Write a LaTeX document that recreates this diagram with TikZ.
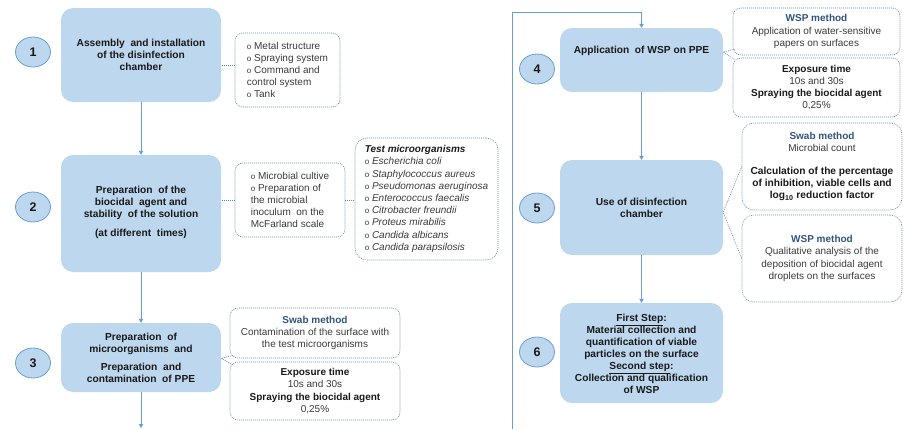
\documentclass[tikz,border=0pt]{standalone}
\usepackage{fontspec}
\setmainfont{Liberation Sans}
\usetikzlibrary{arrows.meta,shapes.geometric,calc}
\definecolor{boxblue}{HTML}{BDD7EE}
\definecolor{lineblue}{HTML}{6A9FD6}
\definecolor{dashc}{HTML}{6A84A8}
\definecolor{methc}{HTML}{2F5380}
\definecolor{txtc}{HTML}{1A1A1A}
\definecolor{sidetxt}{HTML}{3A3A3A}
\newcommand{\bul}{{\fontsize{8}{6}\selectfont o}\ }
\newcommand{\meth}[1]{{\color{methc}\bfseries #1}}
\newcommand{\bfblack}[1]{{\bfseries\color{txtc}#1}}
\tikzset{
 mainbox/.style={fill=boxblue, draw=none, rounded corners=12pt, minimum width=160pt, inner sep=0pt},
 maintext/.style={align=center, font=\bfseries\fontsize{10.2}{12}\selectfont, text=txtc, inner sep=0pt},
 numc/.style={ellipse, draw=lineblue, line width=0.8pt, fill=boxblue, minimum width=35pt, minimum height=30pt, inner sep=0pt, font=\bfseries\fontsize{12.5}{12}\selectfont, text=txtc},
 sidebox/.style={draw=dashc, dash pattern=on 1pt off 1pt, line width=0.6pt, rounded corners=8pt, inner sep=2pt, font=\fontsize{10}{12.2}\selectfont, text=sidetxt},
 flow/.style={draw=lineblue, line width=0.8pt, -{Triangle[length=4pt,width=4.5pt]}},
 dconn/.style={draw=dashc, dash pattern=on 1pt off 1pt, line width=0.6pt},
}
\begin{document}
\begin{tikzpicture}[x=1pt,y=-1pt]
\useasboundingbox (0,0) rectangle (903,429);
% ---------- left column ----------
\node[mainbox, minimum height=94pt] (b1) at (141,55) {};
\node[maintext] (b1t) at (141,55) {Assembly\ \ and installation\\of the disinfection\\chamber};
\node[numc] (c1) at (33,52) {1};

\node[mainbox, minimum height=117pt] (b2) at (141,213.5) {};
\node[maintext] (b2t) at (141,212) {Preparation\ \ of the\\biocidal\ \ agent and\\stability\ \ of the solution\\[7pt](at different\ \ times)};
\node[numc] (c2) at (33,207) {2};

\node[mainbox, minimum height=69pt] (b3) at (141,357.5) {};
\node[maintext] (b3t) at (141,358) {Preparation\ \ of\\microorganisms\ \ and\\[6pt]Preparation\ \ and\\contamination\ \ of PPE};
\node[numc] (c3) at (33,363) {3};

\node[sidebox, minimum width=105pt, minimum height=74pt, align=left] (s1) at (287.5,70)
 {\bul Metal structure\\\bul Spraying system\\\bul Command and\\control system\\\bul Tank};
\node[sidebox, minimum width=110pt, minimum height=74pt, align=left] (s2a) at (290,200)
 {\bul Microbial cultive\\\bul Preparation of\\the microbial\\inoculum\ \ on the\\McFarland scale};
\node[sidebox, minimum width=143pt, minimum height=122pt, align=left, rounded corners=12pt] (tst) at (426.5,199)
 {\hfil{\bfseries\itshape\color{txtc}Test microorganisms}\hfil\\\bul\textit{Escherichia coli}\\\bul\textit{Staphylococcus aureus}\\\bul\textit{Pseudomonas aeruginosa}\\\bul\textit{Enterococcus faecalis}\\\bul\textit{Citrobacter freundii}\\\bul\textit{Proteus mirabilis}\\\bul\textit{Candida albicans}\\\bul\textit{Candida parapsilosis}};
\node[sidebox, minimum width=170pt, minimum height=50pt, align=center] (s3a) at (315,333)
 {\meth{Swab method}\\Contamination of the surface with\\the test microorganisms};
\node[sidebox, minimum width=170pt, minimum height=58pt, align=center] (s3b) at (315,391)
 {\bfblack{Exposure time}\\10s and 30s\\\bfblack{Spraying the biocidal agent}\\0,25\%};

% ---------- right column ----------
\node[mainbox, minimum width=163pt, minimum height=64pt] (b4) at (641.5,60) {};
\node[maintext] (b4t) at (641.5,51) {Application\ \ of WSP on PPE};
\node[numc] (c4) at (537,69) {4};

\node[mainbox, minimum width=163pt, minimum height=95pt] (b5) at (641.5,207.5) {};
\node[maintext] (b5t) at (641.5,208) {Use of disinfection\\chamber};
\node[numc] (c5) at (537,208) {5};

\node[mainbox, minimum width=163pt, minimum height=100pt] (b6) at (641.5,353) {};
\node[maintext] (b6t) at (641.5,354) {\underline{First Step}:\\Material collection and\\quantification of viable\\particles on the surface\\\underline{Second step}:\\Collection and qualification\\of WSP};
\node[numc] (c6) at (537,352) {6};

\node[sidebox, minimum width=167pt, minimum height=47pt, align=center] (s4a) at (816.5,31.5)
 {\meth{WSP method}\\Application of water-sensitive\\papers on surfaces};
\node[sidebox, minimum width=167pt, minimum height=59pt, align=center] (s4b) at (816.5,87.5)
 {\bfblack{Exposure time}\\10s and 30s\\\bfblack{Spraying the biocidal agent}\\0,25\%};
\node[sidebox, minimum width=160pt, minimum height=87pt, align=center, rounded corners=12pt] (s5a) at (822,166.5)
 {\meth{Swab method}\\Microbial count\\[11pt]{\bfseries\color{txtc}\fontsize{10.2}{12}\selectfont Calculation of the percentage}\\{\bfseries\color{txtc}\fontsize{10.2}{12}\selectfont of inhibition, viable cells and}\\{\bfseries\color{txtc}\fontsize{10.2}{12}\selectfont log\textsubscript{10} reduction factor}};
\node[sidebox, minimum width=160pt, minimum height=87pt, align=center, rounded corners=12pt] (s5b) at (822,258.5)
 {\meth{WSP method}\\Qualitative analysis of the\\deposition of biocidal agent\\droplets on the surfaces};

% ---------- flow connectors ----------
\coordinate (lend) at (141,428);
\coordinate (rstart) at (512,429);
\coordinate (rtop) at (512,12);
\draw[flow] (b1.south) -- (b2.north);
\draw[flow] (b2.south) -- (b3.north);
\draw[flow] (b3.south) -- (lend);
\draw[flow] (rstart) -- (rtop) -| (b4.north);
\draw[flow] (b4.south) -- (b5.north);
\draw[flow] (b5.south) -- (b6.north);

% ---------- dotted side connectors ----------
\draw[dconn] ([yshift=5pt]s1.west) -- ([yshift=5pt]s1.west -| b1.east);
\draw[dconn] (s2a.west) -- (s2a.west -| b2.east);
\draw[dconn] (s2a.east) -- (tst.west |- s2a.east);
\draw[dconn] ([xshift=3pt,yshift=3pt]s3a.south west) -- ([yshift=-1pt]b3.east) -- ([xshift=3pt,yshift=-3pt]s3b.north west);
\draw[dconn] ([xshift=2pt,yshift=6pt]s4a.south west) -- ([yshift=8pt]b4.east) -- ([xshift=2pt,yshift=-2pt]s4b.north west);
\draw[dconn] (s5a.west) -- ([yshift=-5pt]b5.east) -- (s5b.west);
\end{tikzpicture}
\end{document}
